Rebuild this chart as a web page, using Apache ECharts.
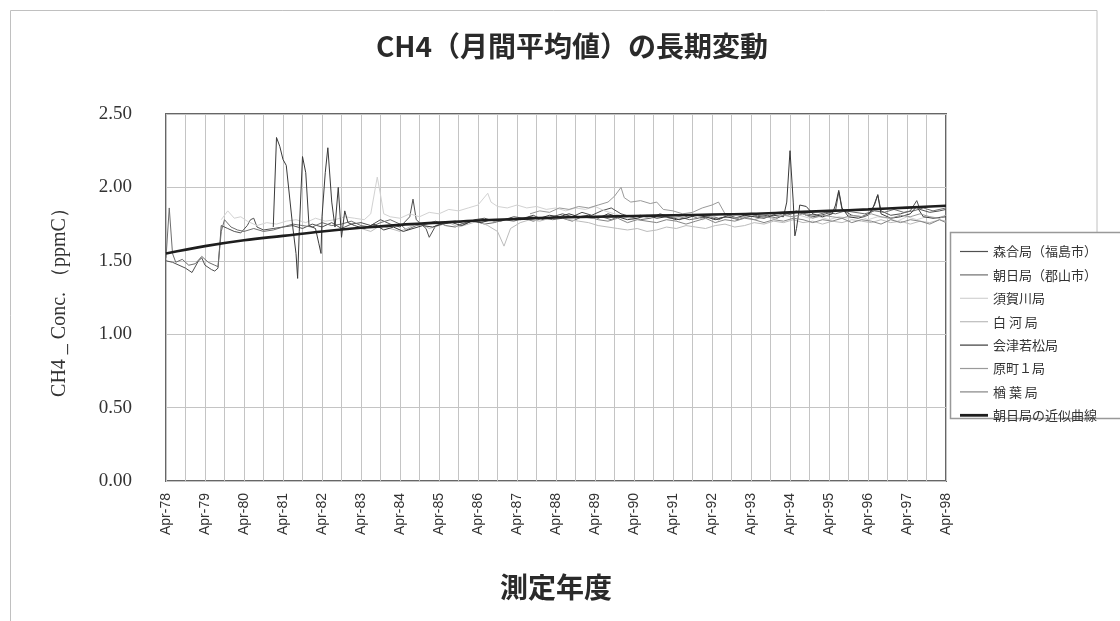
<!DOCTYPE html>
<html><head><meta charset="utf-8">
<script src="https://cdn.jsdelivr.net/npm/echarts@6/dist/echarts.min.js"></script>
<style>html,body{margin:0;padding:0;background:#fff}#c{width:1120px;height:621px}</style>
</head><body><div id="c"></div>
<script>
// x = months since Apr-78 ; y = ppmC
const yearLabels = ['78','79','80','81','82','83','84','85','86','87','88','89','90','91','92','93','94','95','96','97','98'];
const seriesNames = ['森合局（福島市）','朝日局（郡山市）','須賀川局','白 河 局','会津若松局','原町１局','楢 葉 局','朝日局の近似曲線'];

const moriai = [[0,1.50],[2,1.49],[4,1.47],[6,1.45],[8,1.42],[10,1.50],[11,1.52],[12,1.47],[14,1.44],[15,1.43],[16,1.45],[17,1.74],[19,1.72],[21,1.70],[23,1.69],[25,1.74],[26,1.78],[27,1.79],[28,1.73],[30,1.71],[33,1.72],[36,1.73],[39,1.74],[42,1.72],[45,1.75],[48,1.73],[51,1.76],[54,1.72],[57,1.75],[60,1.76],[63,1.74],[66,1.78],[69,1.75],[72,1.73],[75,1.80],[76,1.92],[77,1.78],[80,1.72],[81,1.66],[83,1.74],[86,1.76],[89,1.77],[92,1.75],[95,1.78],[98,1.79],[101,1.77],[104,1.78],[107,1.80],[110,1.79],[113,1.81],[116,1.78],[119,1.80],[122,1.82],[125,1.80],[128,1.83],[131,1.81],[134,1.84],[137,1.86],[140,1.82],[143,1.80],[146,1.81],[149,1.79],[152,1.82],[155,1.80],[158,1.78],[161,1.81],[164,1.79],[167,1.80],[170,1.78],[173,1.81],[176,1.79],[179,1.82],[182,1.80],[185,1.81],[188,1.79],[191,1.82],[194,1.84],[197,1.81],[200,1.80],[203,1.82],[206,1.84],[207,1.97],[208,1.85],[211,1.81],[214,1.80],[217,1.83],[219,1.95],[220,1.84],[223,1.81],[226,1.82],[229,1.84],[231,1.91],[232,1.85],[235,1.83],[238,1.84],[240,1.85]];

const asahi = [[0,1.52],[1,1.86],[2,1.55],[3,1.49],[5,1.51],[7,1.47],[9,1.48],[11,1.53],[13,1.49],[15,1.47],[16,1.46],[17,1.70],[18,1.78],[20,1.73],[22,1.71],[24,1.70],[27,1.72],[30,1.70],[33,1.71],[36,1.73],[39,1.75],[42,1.74],[45,1.73],[48,1.76],[51,1.74],[54,1.75],[57,1.77],[60,1.74],[63,1.73],[66,1.76],[69,1.78],[72,1.75],[74,1.71],[77,1.74],[80,1.75],[83,1.77],[86,1.74],[89,1.73],[92,1.76],[95,1.77],[98,1.75],[101,1.76],[104,1.78],[107,1.77],[110,1.79],[113,1.77],[116,1.79],[119,1.78],[122,1.79],[125,1.77],[128,1.80],[131,1.79],[134,1.80],[137,1.78],[140,1.81],[143,1.80],[146,1.78],[149,1.79],[152,1.81],[155,1.79],[158,1.80],[161,1.78],[164,1.79],[167,1.81],[170,1.79],[173,1.80],[176,1.78],[179,1.80],[182,1.81],[185,1.80],[188,1.82],[191,1.81],[194,1.83],[197,1.82],[200,1.81],[203,1.83],[206,1.82],[209,1.84],[212,1.83],[215,1.82],[218,1.84],[221,1.83],[224,1.85],[227,1.83],[230,1.84],[233,1.86],[236,1.84],[240,1.86]];

const sukagawa = [[17,1.78],[19,1.84],[21,1.79],[23,1.80],[25,1.77],[28,1.74],[31,1.76],[34,1.75],[37,1.77],[40,1.78],[43,1.76],[46,1.79],[49,1.77],[52,1.78],[55,1.80],[58,1.79],[61,1.78],[63,1.82],[65,2.07],[66,1.95],[67,1.82],[69,1.80],[72,1.79],[75,1.82],[78,1.80],[81,1.83],[84,1.82],[87,1.85],[90,1.84],[93,1.86],[96,1.88],[99,1.96],[100,1.90],[102,1.87],[105,1.86],[108,1.88],[111,1.86],[114,1.87],[117,1.85],[120,1.86],[123,1.84],[126,1.86],[129,1.85],[132,1.87],[135,1.84],[138,1.82],[141,1.80],[144,1.78],[147,1.80],[150,1.79],[153,1.81],[156,1.80],[159,1.79],[162,1.81],[165,1.78],[168,1.80],[171,1.82],[174,1.79],[177,1.80],[180,1.81],[183,1.79],[186,1.80],[189,1.82],[192,1.80],[195,1.81],[198,1.79],[201,1.80],[204,1.78],[207,1.80],[210,1.79],[213,1.81],[216,1.78],[219,1.80],[222,1.79],[225,1.77],[228,1.80],[231,1.78],[234,1.80],[237,1.79],[240,1.81]];

const shirakawa = [[60,1.72],[63,1.70],[66,1.74],[69,1.72],[72,1.70],[75,1.73],[78,1.76],[81,1.72],[84,1.74],[87,1.76],[90,1.73],[93,1.75],[96,1.77],[99,1.74],[102,1.70],[104,1.60],[106,1.72],[109,1.76],[112,1.78],[115,1.77],[118,1.79],[121,1.80],[124,1.78],[127,1.77],[130,1.76],[133,1.74],[136,1.73],[139,1.72],[142,1.71],[145,1.72],[148,1.70],[151,1.71],[154,1.73],[157,1.72],[160,1.74],[163,1.73],[166,1.72],[169,1.74],[172,1.75],[175,1.73],[178,1.74],[181,1.76],[184,1.75],[187,1.77],[190,1.76],[193,1.78],[196,1.76],[199,1.77],[202,1.75],[205,1.77],[208,1.76],[211,1.78],[214,1.77],[217,1.76],[220,1.78],[223,1.76],[226,1.77],[229,1.75],[232,1.77],[235,1.76],[238,1.78],[240,1.77]];

const aizu = [[33,1.73],[34,2.34],[35,2.28],[36,2.19],[37,2.15],[39,1.73],[40,1.55],[40.5,1.38],[41,1.70],[42,2.21],[43,2.10],[44,1.74],[46,1.72],[47,1.62],[47.7,1.55],[48,1.80],[49,2.10],[49.8,2.27],[51,1.90],[52,1.73],[53,2.00],[54,1.66],[55,1.84],[56,1.76],[58,1.74],[61,1.72],[64,1.75],[67,1.71],[70,1.73],[73,1.70],[76,1.72],[79,1.74],[82,1.73],[85,1.75],[88,1.76],[91,1.74],[94,1.77],[97,1.76],[100,1.78],[103,1.77],[106,1.79],[109,1.78],[112,1.80],[115,1.79],[118,1.81],[121,1.80],[124,1.82],[127,1.80],[130,1.81],[133,1.79],[136,1.82],[139,1.80],[142,1.78],[145,1.79],[148,1.81],[151,1.79],[154,1.80],[157,1.78],[160,1.79],[163,1.81],[166,1.80],[169,1.78],[172,1.80],[175,1.79],[178,1.81],[181,1.80],[184,1.79],[187,1.81],[190,1.80],[191,1.90],[192,2.25],[193,1.90],[193.5,1.67],[194,1.72],[195,1.88],[197,1.87],[199,1.82],[202,1.80],[205,1.82],[206,1.88],[207,1.98],[208,1.86],[210,1.80],[213,1.79],[216,1.81],[218,1.88],[219,1.95],[220,1.82],[223,1.79],[226,1.80],[229,1.82],[231,1.87],[233,1.80],[236,1.79],[240,1.80]];

const haramachi = [[112,1.82],[115,1.84],[118,1.83],[121,1.86],[124,1.85],[127,1.87],[130,1.86],[133,1.88],[136,1.90],[138,1.94],[140,2.00],[141,1.93],[143,1.90],[146,1.91],[149,1.89],[151,1.90],[153,1.85],[156,1.84],[159,1.82],[162,1.83],[165,1.86],[168,1.88],[170,1.90],[172,1.82],[175,1.79],[178,1.80],[181,1.78],[184,1.80],[187,1.79],[190,1.81],[193,1.80],[196,1.82],[199,1.79],[202,1.81],[205,1.80],[208,1.79],[211,1.81],[214,1.80],[217,1.82],[220,1.80],[223,1.79],[226,1.81],[229,1.80],[232,1.82],[235,1.80],[238,1.79],[240,1.81]];

const naraha = [[130,1.80],[133,1.78],[136,1.77],[139,1.79],[142,1.76],[145,1.78],[148,1.77],[151,1.76],[154,1.78],[157,1.77],[160,1.75],[163,1.77],[166,1.79],[169,1.76],[172,1.78],[175,1.77],[178,1.79],[181,1.78],[184,1.76],[187,1.78],[190,1.77],[193,1.79],[196,1.78],[199,1.76],[202,1.78],[205,1.77],[208,1.79],[211,1.76],[214,1.78],[217,1.77],[220,1.75],[223,1.78],[226,1.76],[229,1.78],[232,1.77],[235,1.75],[238,1.78],[240,1.76]];

const fitCurve = [[0,1.55],[12,1.60],[24,1.64],[36,1.67],[48,1.70],[60,1.725],[72,1.745],[84,1.76],[96,1.775],[108,1.785],[120,1.795],[132,1.80],[144,1.805],[156,1.81],[168,1.815],[180,1.82],[192,1.83],[204,1.84],[216,1.85],[228,1.862],[240,1.875]];

const stationData = [moriai, asahi, sukagawa, shirakawa, aizu, haramachi, naraha, fitCurve];
const colors = ['#505050','#6e6e6e','#d2d2d2','#bcbcbc','#3a3a3a','#9a9a9a','#858585','#1e1e1e'];
const widths = [1,1,1,1,1,1,1,2.6];

const thinIcon = 'path://M0,0 M0,12 M0,5.4 L28,5.4 L28,6.6 L0,6.6 Z';
const thickIcon = 'path://M0,0 M0,12 M0,4.6 L28,4.6 L28,7.4 L0,7.4 Z';

const chart = echarts.init(document.getElementById('c'));
const series = stationData.map((d,i)=>({
  name: seriesNames[i], type:'line', data:d, symbol:'none', showSymbol:false,
  smooth: i===7 ? 0.4 : false,
  lineStyle:{color:colors[i], width:widths[i]}, itemStyle:{color:colors[i]},
  z: i===7 ? 5 : 2, silent:true
}));
chart.setOption({
  animation:false,
  backgroundColor:'#fff',
  title:{text:'CH4（月間平均値）の長期変動', left:567, top:27, textAlign:'center',
    textStyle:{fontFamily:'Noto Sans CJK JP', fontSize:28, fontWeight:'bold', color:'#2a2a2a'}},
  grid:{left:166, right:174, top:114, bottom:140, show:true, borderColor:'#666', borderWidth:2, backgroundColor:'#fff'},
  legend:{orient:'vertical', left:955, top:240, itemWidth:28, itemHeight:12, itemGap:10.4,
    data:seriesNames.map((n,i)=>({name:n, icon: i===7 ? thickIcon : thinIcon})), selectedMode:false,
    textStyle:{fontFamily:'Noto Sans CJK JP', fontSize:13, color:'#333'}},
  xAxis:{type:'value', min:0, max:240, interval:6,
    axisLine:{show:false}, axisTick:{show:false},
    splitLine:{show:true, lineStyle:{color:'#c4c4c4', width:1}},
    axisLabel:{rotate:90, margin:12, fontFamily:'Liberation Sans', fontSize:14, color:'#333',
      formatter:v=> (v%12===0) ? 'Apr-'+yearLabels[v/12] : ''},
    name:'測定年度', nameLocation:'middle', nameGap:92,
    nameTextStyle:{fontFamily:'Noto Sans CJK JP', fontSize:28, fontWeight:'bold', color:'#2a2a2a'}},
  yAxis:{type:'value', min:0, max:2.5, interval:0.5,
    axisLine:{show:false}, axisTick:{show:false},
    splitLine:{show:true, lineStyle:{color:'#c4c4c4', width:1}},
    axisLabel:{margin:34, fontFamily:'Liberation Serif', fontSize:19, color:'#333', formatter:v=>v.toFixed(2)},
    name:'CH4 _ Conc. （ppmC）', nameLocation:'middle', nameGap:96,
    nameTextStyle:{fontFamily:'Liberation Serif', fontSize:20, color:'#333'}},
  graphic:[
    {type:'polyline', shape:{points:[[1097,233],[1097,10.5],[10.5,10.5],[10.5,621]]}, style:{stroke:'#c0c0c0', lineWidth:1, fill:null}, z:0},
    {type:'rect', shape:{x:950.5, y:232.5, width:200, height:186}, style:{stroke:'#999', lineWidth:1.5, fill:'#fff'}, z:0}
  ],
  series
});
</script></body></html>
